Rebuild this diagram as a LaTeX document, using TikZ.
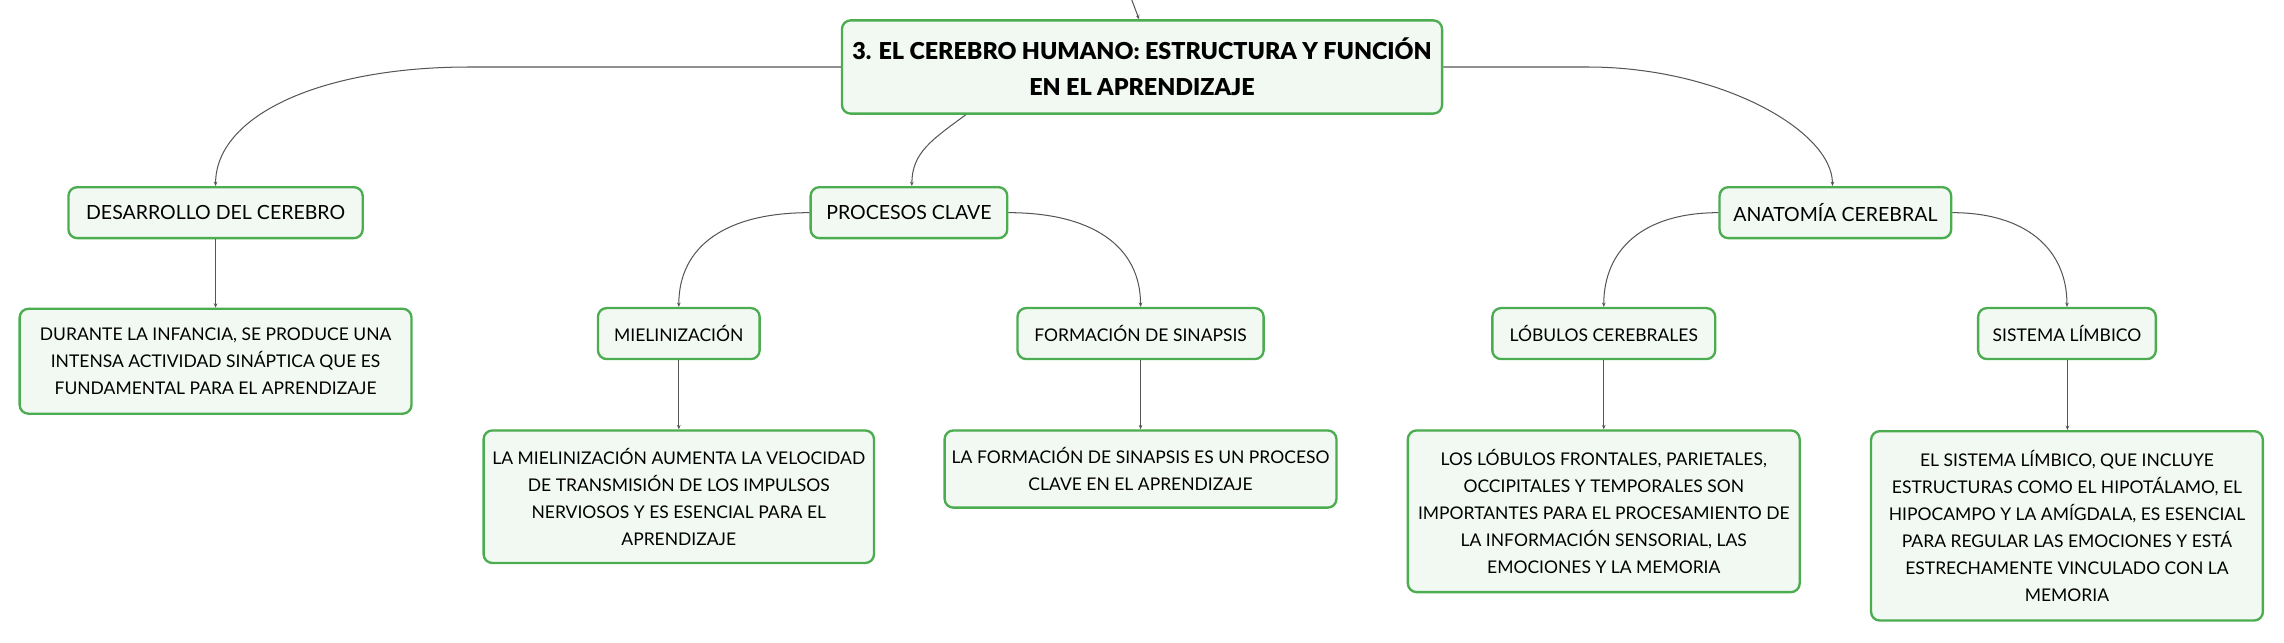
\documentclass[tikz,border=0pt]{standalone}
\usepackage{fontspec}
\setmainfont{Lato}
\newfontfamily\heavyfont{Lato Black}
\usepackage{xcolor}
\usepackage{tikz}
\usetikzlibrary{positioning,arrows.meta}

\definecolor{mapgreen}{RGB}{76,172,80}
\definecolor{mapfill}{RGB}{242,249,243}
\definecolor{mapline}{RGB}{85,85,85}

\begin{document}
\begin{tikzpicture}[x=1pt, y=1pt,
    box/.style={draw=mapgreen, fill=mapfill, line width=1.6pt, rounded corners=6pt, rectangle, align=center, inner sep=0pt, minimum height=35pt, font=\fontsize{12}{18.5}\selectfont},
    branch/.style={box, font=\fontsize{13.4}{18.5}\selectfont},
    topic/.style={box, minimum width=412pt, minimum height=64pt, font=\fontsize{16}{25}\heavyfont},
    conn/.style={draw=mapline, line width=0.7pt, -{Stealth[length=3pt,width=2.5pt]}}]
    \useasboundingbox (0,0) rectangle (1568,-441.4);

    \node [topic] (cerebro) at (784,-46) {3. EL CEREBRO HUMANO: ESTRUCTURA Y FUNCIÓN\\EN EL APRENDIZAJE};
    \coordinate (padre) at (777,0);

    \node [branch, minimum width=202pt] (des) at (148,-146) {DESARROLLO DEL CEREBRO};
    \node [branch, minimum width=135pt, right of=des, node distance=476pt] (proc) {PROCESOS CLAVE};
    \node [branch, minimum width=159pt, right of=proc, node distance=636pt] (ana) {ANATOMÍA CEREBRAL};

    \node [box, minimum width=111pt] (mie) at (466,-229) {MIELINIZACIÓN};
    \node [box, minimum width=169pt, right of=mie, node distance=317pt] (form) {FORMACIÓN DE SINAPSIS};
    \node [box, minimum width=153pt, right of=form, node distance=318pt] (lob) {LÓBULOS CEREBRALES};
    \node [box, minimum width=122pt, right of=lob, node distance=318pt] (lim) {SISTEMA LÍMBICO};

    \node [box, minimum width=269pt, minimum height=72pt, below of=des, node distance=102pt] (destxt) {DURANTE LA INFANCIA, SE PRODUCE UNA\\INTENSA ACTIVIDAD SINÁPTICA QUE ES\\FUNDAMENTAL PARA EL APRENDIZAJE};
    \node [box, minimum width=268pt, minimum height=91pt, below of=mie, node distance=112pt] (mietxt) {LA MIELINIZACIÓN AUMENTA LA VELOCIDAD\\DE TRANSMISIÓN DE LOS IMPULSOS\\NERVIOSOS Y ES ESENCIAL PARA EL\\APRENDIZAJE};
    \node [box, minimum width=269pt, minimum height=53pt, below of=form, node distance=93pt] (formtxt) {LA FORMACIÓN DE SINAPSIS ES UN PROCESO\\CLAVE EN EL APRENDIZAJE};
    \node [box, minimum width=269pt, minimum height=111pt, below of=lob, node distance=122pt] (lobtxt) {LOS LÓBULOS FRONTALES, PARIETALES,\\OCCIPITALES Y TEMPORALES SON\\IMPORTANTES PARA EL PROCESAMIENTO DE\\LA INFORMACIÓN SENSORIAL, LAS\\EMOCIONES Y LA MEMORIA};
    \node [box, minimum width=269pt, minimum height=130pt, below of=lim, node distance=132pt] (limtxt) {EL SISTEMA LÍMBICO, QUE INCLUYE\\ESTRUCTURAS COMO EL HIPOTÁLAMO, EL\\HIPOCAMPO Y LA AMÍGDALA, ES ESENCIAL\\PARA REGULAR LAS EMOCIONES Y ESTÁ\\ESTRECHAMENTE VINCULADO CON LA\\MEMORIA};

    \draw [conn] (padre) -- ([xshift=-2pt]cerebro.north);
    \draw [conn] (cerebro.west) -- ++(-255,0) .. controls +(-103,0) and +(0,48) .. (des.north);
    \draw [conn] ([xshift=-121pt]cerebro.south) .. controls +(-23,-17) and +(0,23) .. ([xshift=2pt]proc.north);
    \draw [conn] (cerebro.east) -- ++(99,0) .. controls +(91,0) and +(0,38) .. ([xshift=-2pt]ana.north);

    \draw [conn] (proc.west) .. controls +(-57,0) and +(0,42) .. (mie.north);
    \draw [conn] (proc.east) .. controls +(57,0) and +(0,42) .. (form.north);
    \draw [conn] (ana.west) .. controls +(-51,0) and +(0,40) .. (lob.north);
    \draw [conn] (ana.east) .. controls +(50,0) and +(0,40) .. (lim.north);

    \draw [conn] (des) -- (destxt);
    \draw [conn] (mie) -- (mietxt);
    \draw [conn] (form) -- (formtxt);
    \draw [conn] (lob) -- (lobtxt);
    \draw [conn] ([xshift=0.3pt]lim.south) -- ([xshift=0.3pt]limtxt.north);
\end{tikzpicture}
\end{document}
